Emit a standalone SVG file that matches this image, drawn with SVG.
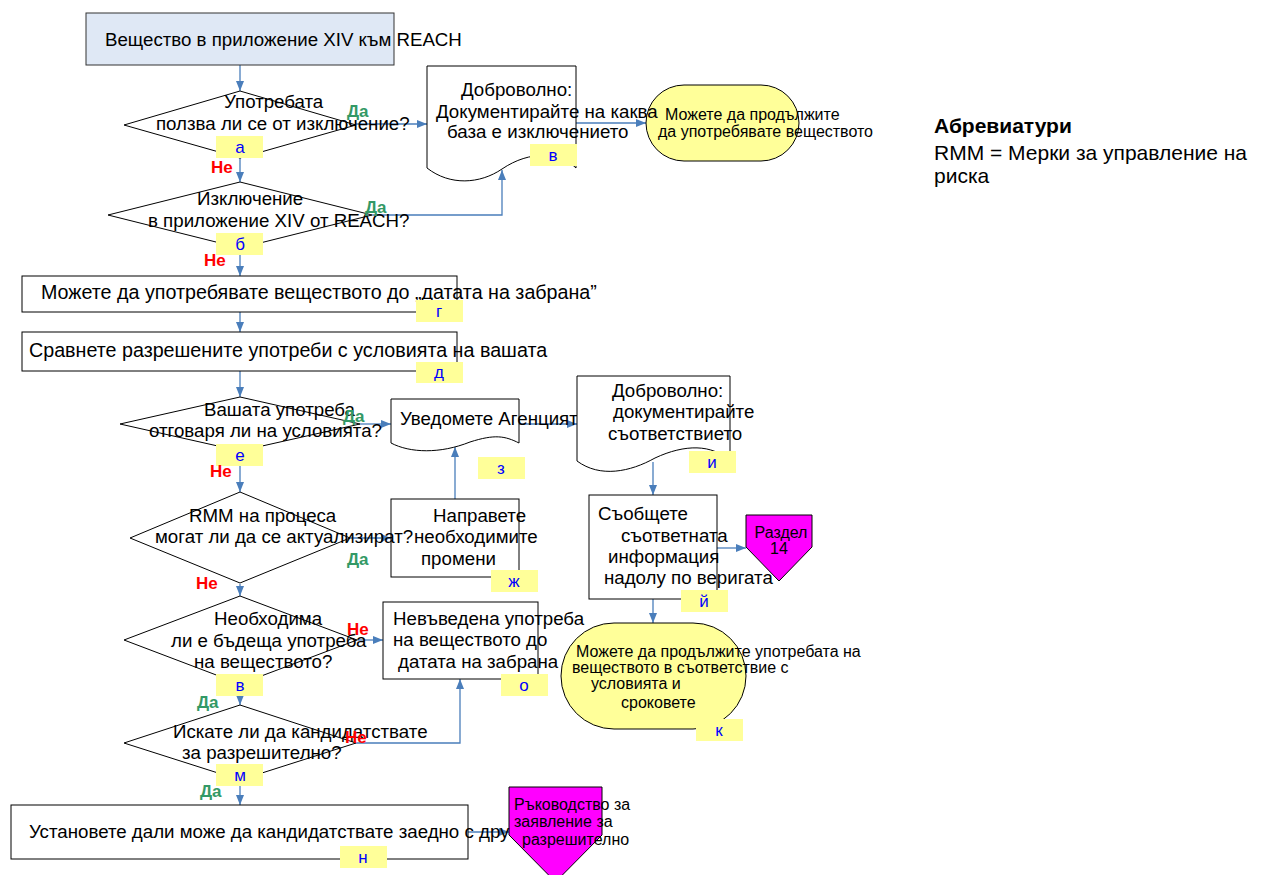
<svg xmlns="http://www.w3.org/2000/svg" width="1266" height="875" viewBox="0 0 1266 875">
<style>
.t{font-family:"Liberation Sans",Arial,sans-serif;font-size:18.7px;fill:#000}
.s{font-size:16px}
.w{font-size:19.7px}
.sh{fill:#fff;stroke:#000;stroke-width:1}
.lb{fill:#ffff99;stroke:none}
.lt{font-family:"Liberation Sans",Arial,sans-serif;font-size:17px;fill:#0000ff;text-anchor:middle}
.y{font-family:"Liberation Sans",Arial,sans-serif;font-size:17px;font-weight:bold;fill:#339966}
.n{font-family:"Liberation Sans",Arial,sans-serif;font-size:17px;font-weight:bold;fill:#ff0000}
.c{fill:none;stroke:#4a7ebb;stroke-width:1.3;marker-end:url(#a)}
.m{text-anchor:middle}
</style>
<defs>
<marker id="a" markerUnits="userSpaceOnUse" markerWidth="10" markerHeight="8" refX="10" refY="4" orient="auto">
<path d="M0,0 L10,4 L0,8 z" fill="#4a7ebb"/>
</marker>
</defs>
<rect width="1266" height="875" fill="#fff"/>
<g id="connectors">
<path class="c" d="M240,65 V91"/>
<path class="c" d="M356,124 H427"/>
<path class="c" d="M240,158 V182"/>
<path class="c" d="M372,215 H502 V170"/>
<path class="c" d="M576,123 H646"/>
<path class="c" d="M240,248 V276"/>
<path class="c" d="M240,312 V332"/>
<path class="c" d="M240,371 V397"/>
<path class="c" d="M360,424 H391"/>
<path class="c" d="M240,451 V492"/>
<path class="c" d="M350,538 H391"/>
<path class="c" d="M455,499 V447"/>
<path class="c" d="M519,424 H577"/>
<path class="c" d="M653,462 V495"/>
<path class="c" d="M717,548 H746"/>
<path class="c" d="M653,599 V623"/>
<path class="c" d="M240,584 V596"/>
<path class="c" d="M357,640 H383"/>
<path class="c" d="M240,684 V705"/>
<path class="c" d="M356,743 H460 V679"/>
<path class="c" d="M240,780 V805"/>
<path class="c" d="M468,832 H509"/>
</g>
<g id="start">
<rect x="86" y="13" width="308" height="52" fill="#dfe8f5" stroke="#333" stroke-width="1"/>
<text class="t" x="105" y="46">Вещество в приложение XIV към REACH</text>
</g>
<g id="d1">
<polygon class="sh" points="240,91 356,125 240,158 124,125"/>
<text class="t" x="224" y="108">Употребата</text>
<text class="t" x="156" y="130">ползва ли се от изключение?</text>
<rect class="lb" x="216" y="136" width="47" height="22"/>
<text class="lt" x="240" y="153">а</text>
</g>
<g id="d2">
<polygon class="sh" points="240,182 372,215 240,248 108,215"/>
<text class="t" x="197" y="205">Изключение</text>
<text class="t" x="148" y="227">в приложение XIV от REACH?</text>
<rect class="lb" x="216" y="233" width="47" height="22"/>
<text class="lt" x="240" y="250">б</text>
</g>
<g id="term1">
<rect x="646" y="85" width="153" height="76" rx="38" ry="38" fill="#ffff99" stroke="#000"/>
<text class="t s" x="665" y="120">Можете да продължите</text>
<text class="t s" x="658" y="137">да употребявате веществото</text>
</g>
<g id="doc1">
<path class="sh" d="M427,66 H576 V168 C560,152 530,150 502,169 C480,184 450,186 427,168 Z"/>
<text class="t" x="461" y="96">Доброволно:</text>
<text class="t" x="436" y="118">Документирайте на каква</text>
<text class="t" x="447" y="138">база е изключението</text>
<rect class="lb" x="530" y="144" width="47" height="22"/>
<text class="lt" x="553" y="161">в</text>
</g>
<g id="boxG">
<rect class="sh" x="22" y="276" width="435" height="36"/>
<text class="t w" x="41" y="299">Можете да употребявате веществото до „датата на забрана”</text>
<rect class="lb" x="416" y="300" width="47" height="22"/>
<text class="lt" x="439" y="317">г</text>
</g>
<g id="boxD">
<rect class="sh" x="22" y="332" width="435" height="39"/>
<text class="t w" x="29" y="357">Сравнете разрешените употреби с условията на вашата</text>
<rect class="lb" x="416" y="362" width="47" height="21"/>
<text class="lt" x="439" y="378">д</text>
</g>
<g id="d3">
<polygon class="sh" points="240,397 360,424 240,451 120,424"/>
<text class="t" x="204" y="416">Вашата употреба</text>
<text class="t" x="149" y="437">отговаря ли на условията?</text>
<rect class="lb" x="216" y="444" width="47" height="22"/>
<text class="lt" x="240" y="461">е</text>
</g>
<g id="doc2">
<path class="sh" d="M391,399 H519 V443 C505,436 495,434 470,442 C440,454 410,453 391,443 Z"/>
<text class="t" x="400" y="425">Уведомете Агенцият</text>
<rect class="lb" x="478" y="457" width="47" height="22"/>
<text class="lt" x="501" y="474">з</text>
</g>
<g id="doc3">
<path class="sh" d="M577,376 H730 V461 C712,444 685,444 655,458 C630,472 600,478 577,461 Z"/>
<text class="t" x="612" y="397">Доброволно:</text>
<text class="t" x="613" y="418">документирайте</text>
<text class="t" x="608" y="440">съответствието</text>
<rect class="lb" x="689" y="451" width="47" height="22"/>
<text class="lt" x="712" y="468">и</text>
</g>
<g id="boxZh">
<rect class="sh" x="391" y="499" width="128" height="78"/>
<text class="t" x="433" y="522">Направете</text>
<text class="t" x="414" y="543">необходимите</text>
<text class="t" x="421" y="565">промени</text>
<rect class="lb" x="491" y="570" width="47" height="22"/>
<text class="lt" x="514" y="587">ж</text>
</g>
<g id="d4">
<polygon class="sh" points="240,492 350,538 240,583 130,538"/>
<text class="t" x="189" y="522">RMM на процеса</text>
<text class="t" x="155" y="543">могат ли да се актуализират?</text>
</g>
<g id="boxJ">
<rect class="sh" x="589" y="495" width="128" height="104"/>
<text class="t" x="598" y="520">Съобщете</text>
<text class="t" x="621" y="542">съответната</text>
<text class="t" x="608" y="563">информация</text>
<text class="t" x="604" y="584">надолу по веригата</text>
<rect class="lb" x="681" y="590" width="47" height="22"/>
<text class="lt" x="704" y="607">й</text>
</g>
<g id="ref14">
<polygon points="746,515 812,515 812,547 779,581 746,547" fill="#ff00ff" stroke="#000"/>
<text class="t s m" x="781" y="538">Раздел</text>
<text class="t s m" x="779" y="554">14</text>
</g>
<g id="term2">
<rect x="561" y="623" width="185" height="106" rx="53" ry="53" fill="#ffff99" stroke="#000"/>
<text class="t s" x="576" y="657">Можете да продължите употребата на</text>
<text class="t s" x="572" y="673">веществото в съответствие с</text>
<text class="t s" x="591" y="689">условията и</text>
<text class="t s" x="621" y="708">сроковете</text>
<rect class="lb" x="696" y="719" width="47" height="22"/>
<text class="lt" x="719" y="736">к</text>
</g>
<g id="d5">
<polygon class="sh" points="240,596 357,640 240,684 124,640"/>
<text class="t" x="214" y="625">Необходима</text>
<text class="t" x="171" y="647">ли е бъдеща употреба</text>
<text class="t" x="194" y="668">на веществото?</text>
<rect class="lb" x="216" y="674" width="47" height="22"/>
<text class="lt" x="240" y="691">в</text>
</g>
<g id="boxO">
<rect class="sh" x="383" y="602" width="155" height="77"/>
<text class="t" x="393" y="625">Невъведена употреба</text>
<text class="t" x="393" y="646">на веществото до</text>
<text class="t" x="398" y="668">датата на забрана</text>
<rect class="lb" x="501" y="674" width="47" height="22"/>
<text class="lt" x="524" y="691">о</text>
</g>
<g id="d6">
<polygon class="sh" points="240,705 356,743 240,780 124,743"/>
<text class="t" x="173" y="738">Искате ли да кандидатствате</text>
<text class="t" x="182" y="759">за разрешително?</text>
<rect class="lb" x="216" y="764" width="47" height="22"/>
<text class="lt" x="240" y="781">м</text>
</g>
<g id="refGuide">
<polygon points="509,787 602,787 602,835 555.5,882 509,835" fill="#ff00ff" stroke="#000"/>
<text class="t s" x="514" y="810">Ръководство за</text>
<text class="t s" x="514" y="827">заявление за</text>
<text class="t s" x="522" y="845">разрешително</text>
</g>
<g id="boxN">
<rect class="sh" x="11" y="805" width="457" height="54"/>
<text class="t" x="29" y="838">Установете дали може да кандидатствате заедно с дру</text>
<rect class="lb" x="340" y="846" width="47" height="22"/>
<text class="lt" x="363" y="863">н</text>
</g>
<g id="answers">
<text class="y" x="347" y="117">Да</text>
<text class="n" x="211" y="173">Не</text>
<text class="y" x="365" y="213">Да</text>
<text class="n" x="204" y="266">Не</text>
<text class="y" x="343" y="422">Да</text>
<text class="n" x="210" y="477">Не</text>
<text class="y" x="347" y="565">Да</text>
<text class="n" x="196" y="589">Не</text>
<text class="n" x="347" y="635">Не</text>
<text class="y" x="197" y="708">Да</text>
<text class="n" x="345" y="743">Не</text>
<text class="y" x="200" y="797">Да</text>
</g>
<g id="legend">
<text class="t" x="934" y="133" style="font-size:21px;font-weight:bold">Абревиатури</text>
<text class="t" x="934" y="160" style="font-size:21px">RMM = Мерки за управление на</text>
<text class="t" x="934" y="183" style="font-size:21px">риска</text>
</g>
</svg>
